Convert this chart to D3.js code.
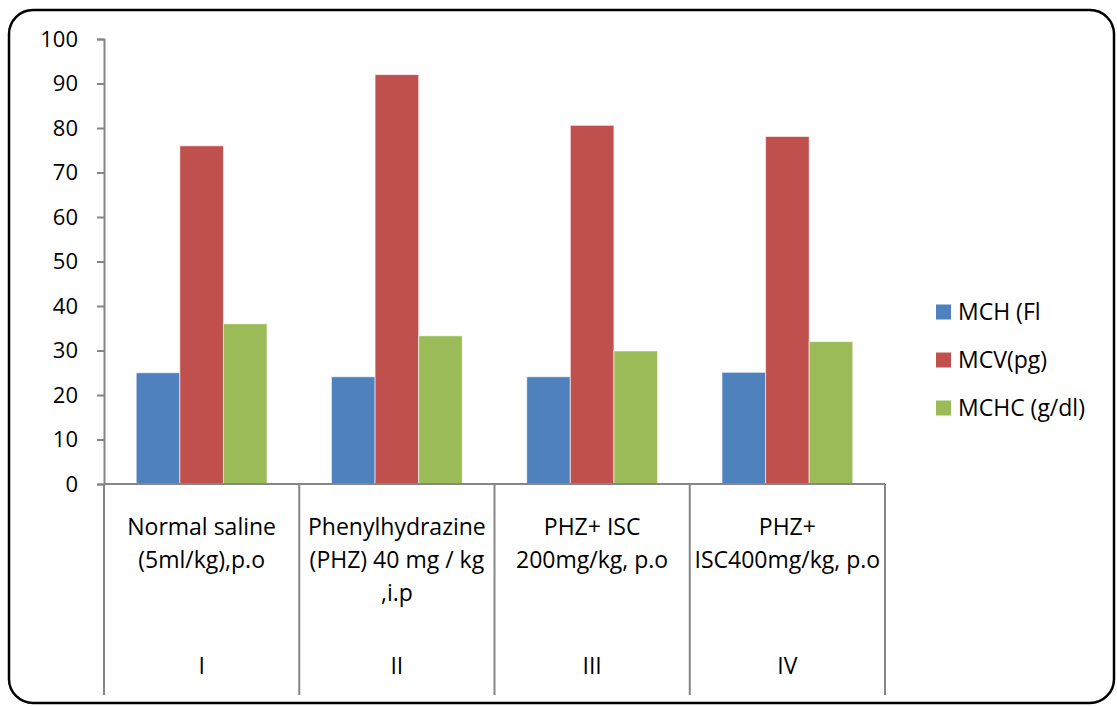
<!DOCTYPE html>
<html>
<head>
<meta charset="utf-8">
<script src="https://cdn.jsdelivr.net/npm/d3@7"></script>
<style>
  body { margin: 0; background: #fff; }
  text { font-family: 'Open Sans', sans-serif; fill: #000; }
</style>
</head>
<body>
<div id="chart"></div>
<script>
const groups = ['I', 'II', 'III', 'IV']
const groupLabels = [
  ['Normal saline', '(5ml/kg),p.o'],
  ['Phenylhydrazine', '(PHZ) 40 mg / kg', ',i.p'],
  ['PHZ+ ISC', '200mg/kg, p.o'],
  ['PHZ+', 'ISC400mg/kg, p.o']
]
const seriesNames = ['MCH (Fl', 'MCV(pg)', 'MCHC (g/dl)']
const mch = [25, 24.1, 24.1, 25.1]
const mcv = [76, 92, 80.6, 78.1]
const mchc = [36, 33.3, 29.9, 32]
const yTicks = [0, 10, 20, 30, 40, 50, 60, 70, 80, 90, 100]

const W = 1117
const H = 706
const margin = { top: 39, left: 104, right: 232, bottom: 222 }
const width = W - margin.left - margin.right
const height = H - margin.top - margin.bottom
const fs = '23px'

const svg = d3
  .select('#chart')
  .append('svg')
  .attr('width', W)
  .attr('height', H)

// rounded frame
svg
  .append('rect')
  .attr('x', 9)
  .attr('y', 10)
  .attr('width', 1105)
  .attr('height', 693)
  .attr('rx', 24)
  .attr('fill', 'none')
  .attr('stroke', '#000')
  .attr('stroke-width', 2.5)

const g = svg
  .append('g')
  .attr('transform', 'translate(' + margin.left + ',' + margin.top + ')')

const x0 = d3.scaleBand().domain(groups).range([0, width]).padding(0)
const x1 = d3
  .scaleBand()
  .domain(seriesNames)
  .range([x0.bandwidth() * 0.165, x0.bandwidth() * 0.835])
  .padding(0)
const y = d3.scaleLinear().domain([0, 100]).range([height, 0])

const color = d3
  .scaleOrdinal()
  .domain(seriesNames)
  .range(['#4f81bd', '#c0504d', '#9bbb59'])

const rows = groups.map((grp, i) => ({
  grp: grp,
  vals: [mch[i], mcv[i], mchc[i]]
}))

// bars
const grpSel = g
  .selectAll('.grp')
  .data(rows)
  .enter()
  .append('g')
  .attr('transform', d => 'translate(' + x0(d.grp) + ',0)')

grpSel
  .selectAll('rect')
  .data(d => d.vals.map((v, j) => ({ name: seriesNames[j], v: v })))
  .enter()
  .append('rect')
  .attr('x', d => x1(d.name))
  .attr('width', x1.bandwidth())
  .attr('y', d => y(d.v))
  .attr('height', d => height - y(d.v))
  .attr('fill', d => color(d.name))
  .attr('stroke', 'rgba(255,255,255,0.6)')
  .attr('stroke-width', 1)

// y axis
const yAxis = d3
  .axisLeft(y)
  .tickValues(yTicks)
  .tickSize(7)
  .tickPadding(19)
const ya = g.append('g').call(yAxis)
ya.select('.domain').attr('stroke', '#868686').attr('stroke-width', 2)
ya.selectAll('.tick line').attr('stroke', '#868686').attr('stroke-width', 2)
ya.selectAll('.tick text').style('font-size', '22px').attr('fill', '#000')

// x axis line and category dividers
g.append('line')
  .attr('x1', 0)
  .attr('x2', width)
  .attr('y1', height)
  .attr('y2', height)
  .attr('stroke', '#868686')
  .attr('stroke-width', 2)

const dividers = groups.map(d => x0(d)).concat([width])
g.selectAll('.divider')
  .data(dividers)
  .enter()
  .append('line')
  .attr('x1', d => d)
  .attr('x2', d => d)
  .attr('y1', height)
  .attr('y2', height + 211)
  .attr('stroke', '#868686')
  .attr('stroke-width', 2)

// category labels
const labelSel = g
  .selectAll('.cat')
  .data(groups)
  .enter()
  .append('text')
  .attr('text-anchor', 'middle')
  .style('font-size', fs)
labelSel
  .selectAll('tspan')
  .data((d, i) => groupLabels[i].map(t => ({ t: t, grp: d })))
  .enter()
  .append('tspan')
  .attr('x', d => x0(d.grp) + x0.bandwidth() / 2)
  .attr('y', (d, j) => height + 51 + j * 33)
  .text(d => d.t)

g.selectAll('.roman')
  .data(groups)
  .enter()
  .append('text')
  .attr('x', d => x0(d) + x0.bandwidth() / 2)
  .attr('y', height + 190)
  .attr('text-anchor', 'middle')
  .style('font-size', fs)
  .text(d => d)

// legend
const legend = svg
  .selectAll('.legend')
  .data(seriesNames)
  .enter()
  .append('g')
  .attr('transform', (d, i) => 'translate(936,' + (312 + i * 48) + ')')
legend
  .append('rect')
  .attr('x', 0)
  .attr('y', -7.5)
  .attr('width', 15)
  .attr('height', 15)
  .attr('fill', d => color(d))
legend
  .append('text')
  .attr('x', 22)
  .attr('y', 8)
  .style('font-size', fs)
  .text(d => d)
</script>
</body>
</html>
